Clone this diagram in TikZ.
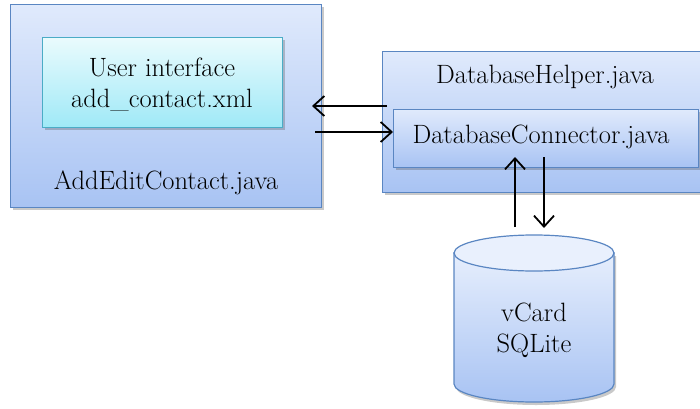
\documentclass[tikz,border=0pt]{standalone}
\usepackage{fontspec}
\usetikzlibrary{arrows.meta,shadows}
\definecolor{boxline}{HTML}{5A86C2}
\definecolor{boxtop}{HTML}{E0EAFC}
\definecolor{boxbot}{HTML}{A8C3F3}
\definecolor{uiline}{HTML}{4BACC6}
\definecolor{uitop}{HTML}{EAFBFD}
\definecolor{uibot}{HTML}{9FE9F7}
\tikzset{
  lbl/.style={font=\rmfamily\fontsize{26.5}{31}\selectfont, text=black, align=center, inner sep=0pt},
  softshadow/.style={drop shadow={shadow xshift=2pt, shadow yshift=-3pt, opacity=.3, fill=black!70}},
  classbox/.style={draw=boxline, line width=1.2pt, top color=boxtop, bottom color=boxbot, softshadow},
  uibox/.style={draw=uiline, line width=1.2pt, top color=uitop, bottom color=uibot, softshadow},
  flow/.style={line width=1.8pt, black, -{Straight Barb[length=11pt,width=20pt,line width=1.8pt]}}
}
\begin{document}
\begin{tikzpicture}[x=1pt,y=1pt]
\useasboundingbox (0,0) rectangle (700,408);

% activity class with its layout
\node[classbox, minimum width=311pt, minimum height=203pt, anchor=south west] (edit) at (10,200) {};
\node[uibox, minimum width=240pt, minimum height=90pt, anchor=south west] (ui) at (42,280) {};
\node[lbl] (uitext) at (162,324) {User interface\\add\_contact.xml};
\node[lbl] (edittext) at (166,225) {AddEditContact.java};

% database helper and its connector
\node[classbox, minimum width=322pt, minimum height=141pt, anchor=south west] (helper) at (382,215) {};
\node[lbl] (helpertext) at (545,331) {DatabaseHelper.java};
\node[classbox, minimum width=305pt, minimum height=58pt, anchor=south west] (conn) at (393,240) {};
\node[lbl] (conntext) at (541,271) {DatabaseConnector.java};

% SQLite store drawn as a cylinder
\path[top color=boxtop!80!white, bottom color=boxbot, softshadow, draw=boxline, line width=1.2pt]
  (454,155) -- (454,24) arc[start angle=180, end angle=360, x radius=80pt, y radius=18pt] -- (614,155) -- cycle;
\draw[boxline, line width=1.2pt, fill=boxtop!70!white] (534,155) ellipse [x radius=80pt, y radius=18pt];
\node[lbl] (db) at (534,78) {vCard\\SQLite};

% connector end points
\coordinate (hOut) at (387,302);
\coordinate (eIn)  at (312,302);
\coordinate (eOut) at (315,276);
\coordinate (dbOut) at (515,181);
\coordinate (cIn)  at (515,251);
\coordinate (cOut) at (544,251);
\coordinate (dbIn) at (544,180);

\draw[flow] (hOut) -- (eIn);
\draw[flow] (eOut) -- (conn.west |- eOut);
\draw[flow] (dbOut) -- (cIn);
\draw[flow] (cOut) -- (dbIn);
\end{tikzpicture}
\end{document}
